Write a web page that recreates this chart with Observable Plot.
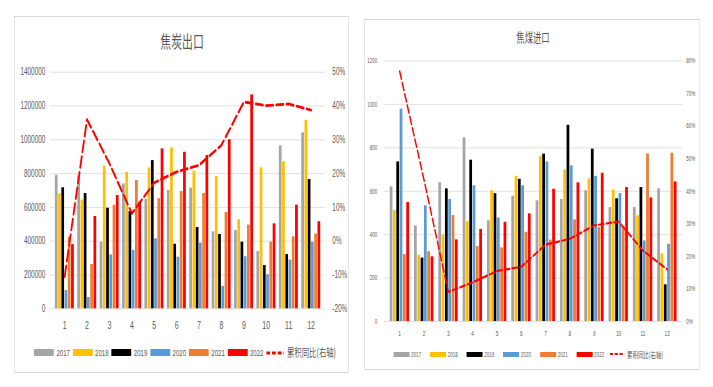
<!DOCTYPE html>
<html><head><meta charset="utf-8">
<script src="https://cdn.jsdelivr.net/npm/d3@7"></script>
<script src="https://cdn.jsdelivr.net/npm/@observablehq/plot@0.6"></script>
<style>
html,body{margin:0;padding:0;background:#fff;width:713px;height:387px;overflow:hidden}
#page{position:absolute;left:0;top:0;width:1114px;height:387px;transform:scaleX(0.64);transform-origin:0 0;font-family:"Liberation Sans","Noto Sans CJK SC",sans-serif;color:#595959}
.panel{position:absolute;border-style:solid;border-color:#d9d9d9;border-width:1px 1.56px;box-sizing:border-box}
.title{position:absolute;transform:translate(-50%,-50%);white-space:nowrap;font-family:"Noto Sans CJK SC",sans-serif;color:#595959}
.holder{position:absolute}
.lg{position:absolute;white-space:nowrap;transform:translateY(-50%);line-height:1}
</style></head>
<body><div id="page"></div>
<script>
// ---------- data ----------
const months = [1,2,3,4,5,6,7,8,9,10,11,12];
const years = ["2017","2018","2019","2020","2021","2022"];
const colors = ["#a5a5a5","#ffc000","#000000","#5b9bd5","#ed7d31","#ff0000"];
const lineName = "累积同比(右轴)";

// 焦炭出口
const cokeTitle = "焦炭出口";
const coke2017 = [790000,785000,394000,739000,646000,700000,714000,455000,463000,339000,964000,1041000];
const coke2018 = [680000,644000,845000,808000,833000,952000,814000,783000,527000,834000,870000,1114000];
const coke2019 = [716000,682000,595000,575000,877000,382000,481000,440000,394000,256000,321000,765000];
const coke2020 = [108000,67000,319000,345000,414000,305000,388000,132000,308000,201000,288000,394000];
const coke2021 = [424000,262000,613000,759000,652000,694000,682000,570000,495000,394000,426000,442000];
const coke2022 = [380000,546000,670000,630000,946000,926000,907000,1000000,1266000,503000,613000,515000];
const cokeYoY = [-10.5,36,23,8.2,17.3,20.5,22.5,28.4,41.2,40.1,40.6,38.8];
const cokeLeftTicks = [0,200000,400000,600000,800000,1000000,1200000,1400000];
const cokeRightTicks = [-20,-10,0,10,20,30,40,50];

// 焦煤进口
const coalTitle = "焦煤进口";
const coal2017 = [620,440,639,846,464,577,556,562,602,525,525,611];
const coal2018 = [511,305,399,460,602,669,760,698,657,606,487,312];
const coal2019 = [735,292,611,743,589,655,771,904,794,565,617,169];
const coal2020 = [978,533,562,625,477,625,735,717,669,589,371,356];
const coal2021 = [308,321,488,345,339,411,375,468,433,436,772,775];
const coal2022 = [548,298,376,424,457,496,609,639,683,617,569,643];
const coalYoY = [76.8,43.5,9.1,12,15.5,16.8,23.6,25.4,29.5,30.7,21.8,16];
const coalLeftTicks = [0,200,400,600,800,1000,1200];
const coalRightTicks = [0,10,20,30,40,50,60,70,80];

// ---------- builder ----------
const page = document.getElementById("page");
function el(tag, cls, style, text){const e=document.createElement(tag); if(cls) e.className=cls; Object.assign(e.style,style||{}); if(text!=null) e.textContent=text; page.appendChild(e); return e;}

function build(cfg){
  el("div","panel",{left:cfg.panel[0]+"px",top:cfg.panel[1]+"px",width:cfg.panel[2]+"px",height:cfg.panel[3]+"px"});
  el("div","title",{left:cfg.titlePos[0]+"px",top:cfg.titlePos[1]+"px",fontSize:cfg.titleSize+"px"},cfg.title);
  const rows = [];
  cfg.series.forEach((vals,i)=>vals.forEach((v,j)=>rows.push({month:months[j],year:years[i],value:v})));
  const plotW = cfg.width - cfg.margin[3] - cfg.margin[1];
  const bw = plotW / months.length;
  const pad = bw * cfg.padFrac;
  const slot = (bw - 2*pad) / years.length;
  const bars = years.map((yr,i)=>Plot.barY(rows.filter(r=>r.year===yr),{
    x:"month", y:"value", fill:colors[i],
    insetLeft: pad + i*slot, insetRight: bw - pad - (i+1)*slot
  }));
  const lineData = cfg.yoy.map((p,j)=>({month:months[j], y:cfg.pctToY(p)}));
  const svg = Plot.plot({
    width: cfg.width, height: cfg.height,
    marginTop: cfg.margin[0], marginRight: cfg.margin[1], marginBottom: cfg.margin[2], marginLeft: cfg.margin[3],
    style:{fontFamily:'"Liberation Sans","Noto Sans CJK SC",sans-serif', color:"#595959", background:"transparent", overflow:"visible"},
    x:{type:"band", domain:months, padding:0},
    y:{domain:[cfg.leftTicks[0], cfg.leftTicks[cfg.leftTicks.length-1]]},
    marks:[
      Plot.gridY(cfg.leftTicks,{stroke:"#d9d9d9", strokeOpacity:1, strokeWidth:1}),
      ...bars,
      Plot.line(lineData,{x:"month", y:"y", stroke:"#ff0000", strokeWidth:cfg.lineWidth, strokeDasharray:cfg.dash}),
      Plot.axisY(cfg.leftTicks,{anchor:"left", tickSize:0, tickPadding:cfg.tickPadL, tickFormat:d=>String(d), fontSize:cfg.yFont, label:null}),
      Plot.axisY(cfg.rightTicks.map(cfg.pctToY),{anchor:"right", tickSize:0, tickPadding:cfg.tickPadR, tickFormat:v=>Math.round(cfg.yToPct(v))+"%", fontSize:cfg.yFont, label:null, textAnchor:"start"}),
      Plot.axisX(months,{anchor:"bottom", tickSize:0, tickPadding:cfg.xPad, fontSize:cfg.xFont, label:null})
    ]
  });
  const h = el("div","holder",{left:cfg.svgPos[0]+"px",top:cfg.svgPos[1]+"px",width:cfg.width+"px",height:cfg.height+"px"});
  h.appendChild(svg);
  // legend
  const L = cfg.legend;
  years.forEach((yr,i)=>{
    const x0 = L.x + i*L.step;
    el("div","",{position:"absolute",left:x0+"px",top:(L.y - L.sh/2)+"px",width:L.sw+"px",height:L.sh+"px",background:colors[i]});
    el("div","lg",{left:(x0+L.tx)+"px",top:L.y+"px",fontSize:L.font+"px"},yr);
  });
  const ls = document.createElementNS("http://www.w3.org/2000/svg","svg");
  ls.setAttribute("width",L.lw); ls.setAttribute("height",8);
  ls.style.position="absolute"; ls.style.left=L.lx+"px"; ls.style.top=(L.y-4)+"px";
  const ln = document.createElementNS("http://www.w3.org/2000/svg","line");
  ln.setAttribute("x1",0); ln.setAttribute("x2",L.lw); ln.setAttribute("y1",4); ln.setAttribute("y2",4);
  ln.setAttribute("stroke","#ff0000"); ln.setAttribute("stroke-width",L.lsw); ln.setAttribute("stroke-dasharray",L.ldash);
  ls.appendChild(ln); page.appendChild(ls);
  el("div","lg",{left:L.ltx+"px",top:L.y+"px",fontSize:L.lfont+"px",fontFamily:'"Noto Sans CJK SC",sans-serif'},lineName);
}

build({
  title: cokeTitle, titlePos:[284.4,40], titleSize:17,
  panel:[22.3,16,523,356.7],
  svgPos:[22,16], width:523, height:340, margin:[55.7,37.2,47.7,56.1],
  series:[coke2017,coke2018,coke2019,coke2020,coke2021,coke2022],
  yoy: cokeYoY, pctToY:p=>(p+20)*20000, yToPct:v=>v/20000-20,
  leftTicks: cokeLeftTicks, rightTicks: cokeRightTicks,
  padFrac:0.075, lineWidth:2.8, dash:"11,5",
  tickPadL:7.8, tickPadR:11, yFont:10, xFont:11, xPad:12.7,
  legend:{x:53.1, y:352.7, step:60.5, sw:31, sh:7, tx:35, font:9.5, lx:415.6, lw:28, lsw:3, ldash:"6,3", ltx:448.4, lfont:11.5}
});
build({
  title: coalTitle, titlePos:[832.8,36], titleSize:13,
  panel:[568.75,19.3,525,350.7],
  svgPos:[569,19], width:525, height:326, margin:[41.5,27.6,24,31],
  series:[coal2017,coal2018,coal2019,coal2020,coal2021,coal2022],
  yoy: coalYoY, pctToY:p=>p*15, yToPct:v=>v/15,
  leftTicks: coalLeftTicks, rightTicks: coalRightTicks,
  padFrac:0.1, lineWidth:2.2, dash:"8,4",
  tickPadL:11, tickPadR:5.5, yFont:7, xFont:7.5, xPad:9.3,
  legend:{x:614.5, y:354, step:57.3, sw:25, sh:5, tx:27.7, font:7, lx:953, lw:23, lsw:2.2, ldash:"5,2.5", ltx:979.7, lfont:8.5}
});
</script></body></html>
